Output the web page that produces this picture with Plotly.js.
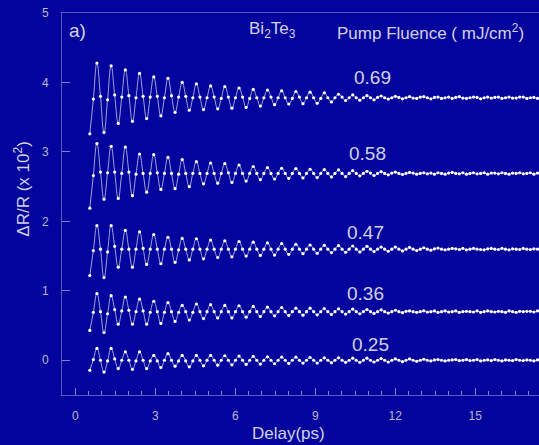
<!DOCTYPE html>
<html>
<head>
<meta charset="utf-8">
<script src="https://cdn.plot.ly/plotly-3.0.1.min.js"></script>
<style>
  html, body { margin: 0; padding: 0; background: #03039d; }
  #chart { width: 539px; height: 445px; }
</style>
</head>
<body>
<div id="chart"></div>
<script>
// Transient reflectivity of Bi2Te3 for five pump fluences (mJ/cm^2).
// Each signal is sampled on the delay-stage grid below; traces are stacked by a vertical offset.
const fluenceLabels = ['0.25', '0.36', '0.47', '0.58', '0.69'];
const traceOffsets = [0.00, 0.70, 1.60, 2.69, 3.78];

// delay-stage grid (ps)
const delayStart = 0.543;
const delayStep = 0.13325;

// ΔR/R (x 10^2) signals, one row per oscillation period
const signal025 = [
  -0.145, 0.01, 0.17, 0.00,
  -0.17, -0.01, 0.17, 0.02,
  -0.12, 0.00, 0.12, 0.00,
  -0.13, -0.01, 0.12, 0.00,
  -0.12, -0.01, 0.07, -0.01,
  -0.105, 0.00, 0.095, 0.00,
  -0.085, -0.01, 0.07, -0.01,
  -0.095, -0.01, 0.07, 0.00,
  -0.08, 0.00, 0.07, 0.00,
  -0.07, 0.00, 0.065, 0.00,
  -0.065, 0.00, 0.06, 0.00,
  -0.06, 0.00, 0.055, 0.00,
  -0.055, 0.00, 0.05, 0.00,
  -0.05, 0.00, 0.045, 0.00,
  -0.045, 0.00, 0.045, 0.00,
  -0.04, 0.00, 0.04, 0.00,
  -0.04, 0.00, 0.035, 0.00,
  -0.035, 0.00, 0.035, 0.00,
  -0.03, 0.00, 0.03, 0.00,
  -0.03, 0.00, 0.03, 0.00,
  -0.025, 0.00, 0.025, 0.00,
  -0.025, 0.00, 0.02, 0.00,
  -0.02, 0.00, 0.02, 0.00,
  -0.015, 0.00, 0.015, 0.00,
  -0.01, 0.005, 0.01, 0.00,
  -0.01, 0.00, 0.005, 0.01,
  -0.005, 0.00, 0.01, -0.005,
  0.00, 0.01, -0.01, 0.00,
  0.005, -0.005, 0.01, 0.00,
  -0.01, 0.005, 0.00, -0.005,
  0.01, 0.00, -0.005, 0.005,
  0.00, -0.01, 0.005, 0.00,
  0.00
];

const signal036 = [
  -0.27, -0.01, 0.26, 0.00,
  -0.30, -0.03, 0.23, 0.03,
  -0.18, 0.01, 0.21, 0.02,
  -0.18, 0.00, 0.18, 0.01,
  -0.18, -0.01, 0.15, 0.00,
  -0.17, -0.01, 0.13, 0.00,
  -0.14, -0.01, 0.09, 0.00,
  -0.12, -0.01, 0.11, 0.00,
  -0.10, 0.00, 0.10, 0.00,
  -0.09, 0.00, 0.09, 0.00,
  -0.09, 0.00, 0.085, 0.00,
  -0.08, 0.00, 0.075, 0.00,
  -0.07, 0.00, 0.065, 0.00,
  -0.06, 0.00, 0.06, 0.00,
  -0.055, 0.00, 0.05, 0.00,
  -0.05, 0.00, 0.05, 0.00,
  -0.045, 0.00, 0.045, 0.00,
  -0.04, 0.00, 0.04, 0.00,
  -0.035, 0.00, 0.035, 0.00,
  -0.03, 0.00, 0.03, 0.00,
  -0.025, 0.00, 0.025, 0.00,
  -0.02, 0.00, 0.02, 0.00,
  -0.015, 0.005, 0.01, 0.00,
  -0.01, 0.00, 0.012, -0.005,
  0.00, 0.01, -0.01, 0.00,
  0.01, -0.005, 0.00, 0.01,
  -0.01, 0.00, 0.005, 0.00,
  -0.005, 0.01, -0.01, 0.00,
  0.01, 0.00, -0.005, 0.005,
  0.00, -0.01, 0.01, 0.00,
  -0.01, 0.005, 0.00, 0.005,
  0.005, -0.005, 0.01, 0.00,
  0.00
];

const signal047 = [
  -0.38, -0.02, 0.34, 0.00,
  -0.41, -0.04, 0.34, 0.04,
  -0.26, 0.00, 0.27, 0.00,
  -0.26, 0.00, 0.25, 0.01,
  -0.22, 0.00, 0.21, 0.00,
  -0.21, 0.00, 0.17, 0.00,
  -0.19, -0.01, 0.155, 0.00,
  -0.155, 0.00, 0.15, 0.00,
  -0.14, 0.00, 0.13, 0.00,
  -0.12, 0.00, 0.12, 0.00,
  -0.11, 0.00, 0.11, 0.00,
  -0.10, 0.00, 0.10, 0.00,
  -0.09, 0.00, 0.09, 0.00,
  -0.085, 0.00, 0.08, 0.00,
  -0.075, 0.00, 0.07, 0.00,
  -0.065, 0.00, 0.06, 0.00,
  -0.06, 0.00, 0.055, 0.00,
  -0.05, 0.00, 0.05, 0.00,
  -0.045, 0.00, 0.045, 0.00,
  -0.04, 0.00, 0.04, 0.00,
  -0.035, 0.00, 0.03, 0.00,
  -0.03, 0.00, 0.03, 0.00,
  -0.025, 0.00, 0.025, 0.00,
  -0.02, 0.00, 0.02, 0.00,
  -0.015, 0.005, 0.015, 0.00,
  -0.01, 0.00, 0.01, 0.005,
  -0.005, 0.01, -0.01, 0.00,
  0.01, 0.00, -0.005, -0.01,
  0.005, 0.01, 0.00, -0.005,
  0.01, 0.00, -0.01, 0.005,
  0.00, -0.005, 0.01, 0.00,
  -0.005, 0.005, 0.00, 0.01,
  0.00
];

const signal058 = [
  -0.50, -0.03, 0.43, 0.02,
  -0.37, 0.01, 0.39, 0.02,
  -0.36, 0.00, 0.38, 0.02,
  -0.32, -0.01, 0.28, 0.00,
  -0.27, 0.00, 0.27, 0.01,
  -0.23, 0.00, 0.23, 0.00,
  -0.22, -0.01, 0.20, 0.00,
  -0.19, 0.00, 0.17, 0.00,
  -0.15, 0.00, 0.15, 0.00,
  -0.14, 0.00, 0.14, 0.01,
  -0.13, 0.00, 0.12, 0.00,
  -0.11, 0.00, 0.10, 0.00,
  -0.09, 0.00, 0.085, 0.00,
  -0.08, 0.00, 0.075, 0.00,
  -0.07, 0.00, 0.07, 0.00,
  -0.065, 0.00, 0.06, 0.00,
  -0.06, 0.00, 0.055, 0.00,
  -0.05, 0.00, 0.05, 0.00,
  -0.045, 0.00, 0.04, 0.00,
  -0.035, 0.00, 0.03, 0.005,
  -0.03, 0.00, 0.025, 0.00,
  -0.02, 0.005, 0.02, 0.00,
  -0.015, 0.00, 0.015, 0.005,
  -0.01, 0.00, 0.01, -0.005,
  0.005, -0.01, 0.01, 0.00,
  -0.01, 0.005, 0.015, 0.00,
  -0.005, 0.01, -0.01, 0.00,
  0.01, -0.005, 0.00, 0.01,
  -0.01, 0.005, 0.005, -0.005,
  0.01, 0.00, -0.01, 0.005,
  0.00, 0.01, -0.005, 0.00,
  0.01, -0.01, 0.005, 0.00,
  0.00
];

const signal069 = [
  -0.52, -0.02, 0.50, 0.02,
  -0.50, -0.03, 0.46, 0.04,
  -0.37, 0.01, 0.40, 0.03,
  -0.34, 0.00, 0.35, 0.02,
  -0.30, 0.01, 0.30, 0.02,
  -0.26, 0.00, 0.28, 0.03,
  -0.21, 0.01, 0.22, 0.02,
  -0.18, 0.00, 0.20, 0.01,
  -0.17, 0.00, 0.17, 0.01,
  -0.16, -0.01, 0.16, 0.01,
  -0.15, 0.00, 0.14, 0.01,
  -0.14, -0.01, 0.12, 0.00,
  -0.12, 0.00, 0.11, 0.01,
  -0.10, 0.00, 0.10, 0.00,
  -0.09, -0.01, 0.09, 0.01,
  -0.085, 0.00, 0.08, 0.00,
  -0.08, -0.01, 0.07, 0.00,
  -0.06, 0.00, 0.05, 0.01,
  -0.04, 0.00, 0.04, 0.00,
  -0.035, 0.00, 0.03, 0.00,
  -0.03, 0.005, 0.025, 0.00,
  -0.02, 0.00, 0.02, 0.005,
  -0.015, 0.00, 0.015, -0.005,
  -0.01, 0.01, 0.015, 0.00,
  -0.015, 0.005, 0.01, -0.01,
  0.00, 0.01, -0.01, 0.005,
  0.015, -0.005, -0.01, 0.00,
  0.01, 0.005, -0.015, 0.00,
  0.01, -0.005, 0.005, 0.01,
  -0.01, 0.00, 0.01, -0.005,
  -0.005, 0.01, 0.01, -0.01,
  0.00, 0.005, -0.01, 0.005,
  0.005
];

const signals = [signal025, signal036, signal047, signal058, signal069];

const textColor = '#d2d2e4';
const axisColor = '#5a5abc';
const tickColor = '#8282cc';
const bgColor = '#03039d';
const fontFamily = 'Liberation Sans, Arial, sans-serif';

const traces = signals.map((sig, k) => {
  const delays = sig.map((_, i) => delayStart + i * delayStep);
  return {
    x: delays,
    y: sig.map(v => v + traceOffsets[k]),
    type: 'scatter',
    mode: 'lines+markers',
    name: fluenceLabels[k],
    line: { color: '#b4b6de', width: 0.9, shape: 'spline', smoothing: 1.3 },
    marker: { color: '#ffffff', size: 3.2 },
    hoverinfo: 'skip'
  };
});

// fluence labels sit above the tail of each trace
const labelPos = [
  { x: 11.06, y: 0.22 },
  { x: 10.87, y: 0.96 },
  { x: 10.87, y: 1.84 },
  { x: 10.95, y: 2.98 },
  { x: 11.14, y: 4.07 }
];

const annotations = fluenceLabels.map((lab, k) => ({
  x: labelPos[k].x, y: labelPos[k].y, xref: 'x', yref: 'y',
  text: lab, showarrow: false,
  font: { family: fontFamily, size: 19, color: textColor },
  xanchor: 'center', yanchor: 'middle'
}));

annotations.push(
  { x: -0.3, y: 4.75, xref: 'x', yref: 'y', text: 'a)', showarrow: false,
    xanchor: 'left', yanchor: 'middle',
    font: { family: fontFamily, size: 19, color: textColor } },
  { x: 6.45, y: 4.76, xref: 'x', yref: 'y', text: 'Bi<sub>2</sub>Te<sub>3</sub>', showarrow: false,
    xanchor: 'left', yanchor: 'middle',
    font: { family: fontFamily, size: 17, color: textColor } },
  { x: 9.75, y: 4.73, xref: 'x', yref: 'y', text: 'Pump Fluence ( mJ/cm<sup>2</sup>)', showarrow: false,
    xanchor: 'left', yanchor: 'middle',
    font: { family: fontFamily, size: 17, color: textColor } },
  // axis titles
  { x: 8.0, y: -0.10, xref: 'x', yref: 'paper', text: 'Delay(ps)', showarrow: false,
    xanchor: 'center', yanchor: 'middle',
    font: { family: fontFamily, size: 17, color: textColor } },
  { x: -0.084, y: 2.47, xref: 'paper', yref: 'y', text: 'ΔR/R (x 10<sup>2</sup>)', showarrow: false,
    textangle: -90, xanchor: 'center', yanchor: 'middle',
    font: { family: fontFamily, size: 17, color: textColor } }
);

const tickFont = { family: fontFamily, size: 12, color: '#b8b8d0' };

const layout = {
  width: 539,
  height: 445,
  margin: { l: 62, r: 0, t: 13, b: 50 },
  paper_bgcolor: bgColor,
  plot_bgcolor: bgColor,
  showlegend: false,
  xaxis: {
    range: [-0.5, 17.39],
    tick0: 0, dtick: 3,
    ticks: 'inside', ticklen: 7, tickwidth: 1, tickcolor: tickColor,
    minor: { dtick: 0.5, ticks: 'inside', ticklen: 4, tickcolor: tickColor, showgrid: false },
    showline: true, linecolor: axisColor, linewidth: 1, mirror: true,
    showgrid: false, zeroline: false,
    tickfont: tickFont,
    ticklabelstandoff: 10
  },
  yaxis: {
    range: [-0.5, 5],
    tick0: 0, dtick: 1,
    ticks: 'inside', ticklen: 8, tickwidth: 1, tickcolor: tickColor,
    showline: true, linecolor: axisColor, linewidth: 1,
    showgrid: false, zeroline: false,
    tickfont: tickFont,
    ticklabelstandoff: 10
  },
  annotations: annotations
};

Plotly.newPlot('chart', traces, layout, { staticPlot: true, displayModeBar: false });
</script>
</body>
</html>
